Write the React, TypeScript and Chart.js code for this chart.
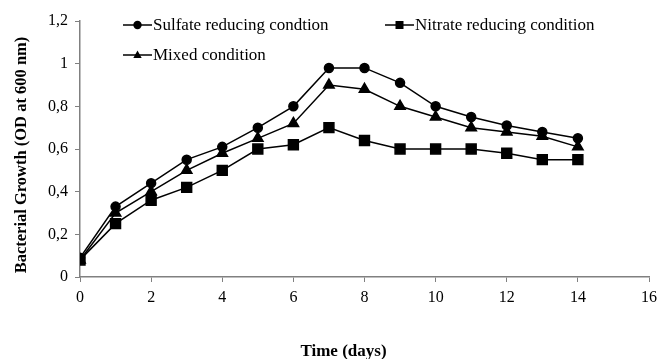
import React, { useEffect, useRef } from "react";
import { Chart, registerables } from "chart.js";

Chart.register(...registerables);

const days = [0, 1, 2, 3, 4, 5, 6, 7, 8, 9, 10, 11, 12, 13, 14];
const sulfate = [0.09, 0.33, 0.44, 0.55, 0.61, 0.7, 0.8, 0.98, 0.98, 0.91, 0.8, 0.75, 0.71, 0.68, 0.65];
const nitrate = [0.08, 0.25, 0.36, 0.42, 0.5, 0.6, 0.62, 0.7, 0.64, 0.6, 0.6, 0.6, 0.58, 0.55, 0.55];
const mixed = [0.08, 0.3, 0.4, 0.5, 0.58, 0.65, 0.72, 0.9, 0.88, 0.8, 0.75, 0.7, 0.68, 0.66, 0.61];
const seriesLabels = ["Sulfate reducing condtion", "Nitrate reducing condition", "Mixed condition"];
const xTitle = "Time (days)";
const yTitle = "Bacterial Growth (OD at 600 nm)";

const FONT = "'Liberation Serif', 'Times New Roman', serif";

function drawMarker(ctx: CanvasRenderingContext2D, style: string, x: number, y: number, r: number) {
  ctx.beginPath();
  if (style === "circle") {
    ctx.arc(x, y, r, 0, Math.PI * 2);
  } else if (style === "rect") {
    ctx.rect(x - r, y - r, 2 * r, 2 * r);
  } else {
    ctx.moveTo(x, y - r * 1.1);
    ctx.lineTo(x + r, y + r * 0.7);
    ctx.lineTo(x - r, y + r * 0.7);
    ctx.closePath();
  }
  ctx.fill();
}

const legendPlugin = {
  id: "customLegend",
  afterDraw(chart: any) {
    const ctx = chart.ctx as CanvasRenderingContext2D;
    const items = [
      { label: seriesLabels[0], style: "circle", x: 123, y: 25, r: 4.2 },
      { label: seriesLabels[1], style: "rect", x: 385, y: 25, r: 4 },
      { label: seriesLabels[2], style: "triangle", x: 123, y: 55, r: 4.2 },
    ];
    ctx.save();
    ctx.fillStyle = "#000";
    ctx.strokeStyle = "#000";
    ctx.lineWidth = 1.5;
    ctx.font = `17px ${FONT}`;
    ctx.textBaseline = "middle";
    ctx.textAlign = "left";
    for (const it of items) {
      ctx.beginPath();
      ctx.moveTo(it.x, it.y);
      ctx.lineTo(it.x + 29, it.y);
      ctx.stroke();
      drawMarker(ctx, it.style, it.x + 14.5, it.y, it.r);
      ctx.fillText(it.label, it.x + 30, it.y + 1);
    }
    // axis titles
    ctx.textAlign = "center";
    ctx.font = `bold 17px ${FONT}`;
    ctx.fillText(xTitle, 343.5, 352);
    ctx.translate(22, 155);
    ctx.rotate(-Math.PI / 2);
    ctx.font = `bold 16.5px ${FONT}`;
    ctx.fillText(yTitle, 0, 0);
    ctx.restore();
  },
};

export default function App() {
  const ref = useRef<HTMLCanvasElement>(null);
  useEffect(() => {
    document.body.style.margin = "0";
    const mk = (vals: number[]) => days.map((d, i) => ({ x: d, y: vals[i] }));
    const common = {
      borderColor: "#000",
      backgroundColor: "#000",
      pointBackgroundColor: "#000",
      pointBorderColor: "#000",
      borderWidth: 1.5,
      showLine: true,
      tension: 0,
    };
    const chart = new Chart(ref.current!, {
      type: "scatter",
      data: {
        datasets: [
          { ...common, label: seriesLabels[0], data: mk(sulfate), pointStyle: "circle", pointRadius: 4.5 },
          { ...common, label: seriesLabels[1], data: mk(nitrate), pointStyle: "rect", pointRadius: 7 },
          { ...common, label: seriesLabels[2], data: mk(mixed), pointStyle: "triangle", pointRadius: 6 },
        ],
      },
      options: {
        animation: false,
        responsive: false,
        maintainAspectRatio: false,
        layout: { padding: { top: 21, right: 11, left: 0, bottom: 0 } },
        plugins: { legend: { display: false }, tooltip: { enabled: false } },
        scales: {
          x: {
            type: "linear",
            min: 0,
            max: 16,
            afterFit: (s: any) => { s.height = 82; },
            ticks: { stepSize: 2, color: "#000", font: { family: FONT, size: 16 }, padding: 6 },
            grid: { display: true, drawOnChartArea: false, drawTicks: true, tickLength: 5, color: "#808080" },
            border: { display: true, color: "#808080", width: 1.5 },
          },
          y: {
            type: "linear",
            min: 0,
            max: 1.2,
            afterFit: (s: any) => { s.width = 80; },
            ticks: {
              stepSize: 0.2,
              color: "#000",
              font: { family: FONT, size: 16 },
              padding: 7,
              callback: (v: any) => String(Number(Number(v).toFixed(1))).replace(".", ","),
            },
            grid: { display: true, drawOnChartArea: false, drawTicks: true, tickLength: 5, color: "#808080" },
            border: { display: true, color: "#808080", width: 1.5 },
          },
        },
      },
      plugins: [legendPlugin],
    });
    return () => chart.destroy();
  }, []);
  return (
    <div style={{ position: "absolute", left: 0, top: 0, width: 663, height: 359 }}>
      <canvas ref={ref} width={663} height={359} style={{ width: 663, height: 359, display: "block" }} />
    </div>
  );
}
